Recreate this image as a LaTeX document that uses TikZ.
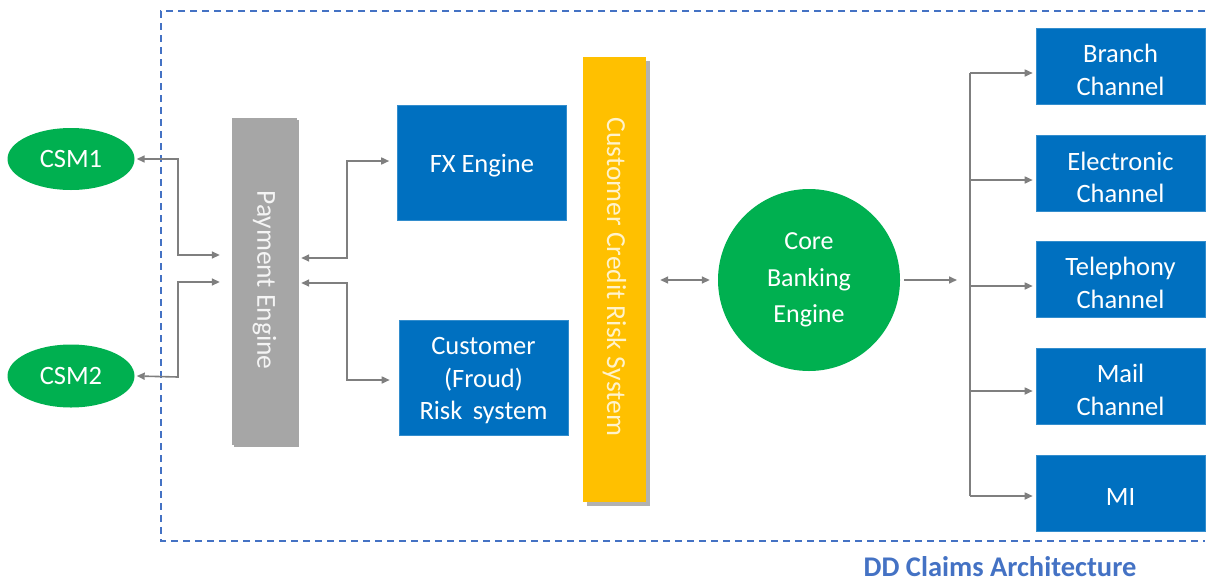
\documentclass[tikz,border=0pt]{standalone}
\usepackage{fontspec}
\setmainfont{Carlito}
\usetikzlibrary{arrows.meta,shapes.geometric}
\definecolor{boxblue}{HTML}{0070C0}
\definecolor{okgreen}{HTML}{00B050}
\definecolor{paygray}{HTML}{A6A6A6}
\definecolor{ccyellow}{HTML}{FFC000}
\definecolor{arrgray}{HTML}{7F7F7F}
\definecolor{dashblue}{HTML}{4472C4}
\tikzset{
  x=1pt,y=-1pt,
  txt/.style={font=\fontsize{26.5}{32.5}\selectfont, text=white, align=center, inner sep=0pt},
  rtxt/.style={font=\fontsize{27.5}{32}\selectfont, inner sep=0pt, rotate=-90},
  bluebox/.style={rectangle, fill=boxblue, draw=boxblue!80!white, line width=0.6pt},
  greenell/.style={txt, ellipse, fill=okgreen, inner sep=0pt},
  conn/.style={draw=arrgray, line width=1.6pt},
  tip/.style={-{Triangle[length=8pt,width=7pt]}},
  dtip/.style={{Triangle[length=8pt,width=7pt]}-{Triangle[length=8pt,width=7pt]}},
}
\begin{document}
\begin{tikzpicture}
\useasboundingbox (0,0) rectangle (1209,581);
% frame
\draw[dashblue, line width=1.8pt, dash pattern=on 7pt off 5pt] (1205,11) -- (161,11) -- (161,541) -- (1205,541);
\node[font=\bfseries\fontsize{28.5}{32}\selectfont, text=dashblue, inner sep=0pt, text depth=0pt, anchor=base] (title) at (1000,576) {DD Claims Architecture};

% left ellipses
\node[greenell, minimum width=127pt, minimum height=62pt] (csm1) at (71,159) {CSM1};
\node[greenell, minimum width=127pt, minimum height=63pt] (csm2) at (71,376) {CSM2};

% payment engine
\fill[gray!70] (234,120) rectangle (299,447);
\node[rectangle, fill=paygray, minimum width=65pt, minimum height=327pt, inner sep=0pt] (pay) at (264.5,281.5) {};
\node[rtxt, text=white!88!paygray] (paytxt) at (264.5,280) {Payment Engine};

% FX and fraud
\node[bluebox, minimum width=169pt, minimum height=115pt] (fx) at (482,162.5) {};
\node[txt] (fxt) at ([yshift=-3.5pt]fx.center) {FX Engine};
\node[bluebox, minimum width=169pt, minimum height=115pt] (cfr) at (483.5,377.5) {};
\node[txt] (cfrt) at ([yshift=-3.5pt]cfr.center) {Customer\\(Froud)\\Risk\, system};

% CCRS
\fill[gray!60] (587,61) rectangle (650,506);
\node[rectangle, fill=ccyellow, minimum width=63pt, minimum height=445pt, inner sep=0pt] (ccrs) at (614.5,279.5) {};
\node[rtxt, text=white!80!ccyellow] (ccrstxt) at (614.5,277) {Customer Credit Risk System};

% core
\node[txt, circle, fill=okgreen, minimum size=182pt, font=\fontsize{26}{36.5}\selectfont] (core) at (809,280) {Core\\Banking\\Engine};

% channels
\node[bluebox, minimum width=169pt, minimum height=76pt] (branch) at (1120.5,66) {};
\node[txt] (brancht) at ([yshift=-4pt]branch.center) {Branch\\Channel};
\node[bluebox, minimum width=169pt, minimum height=76pt] (elec) at (1120.5,173.5) {};
\node[txt] (elect) at ([yshift=-4pt]elec.center) {Electronic\\Channel};
\node[bluebox, minimum width=169pt, minimum height=76pt] (tel) at (1120.5,279) {};
\node[txt] (telt) at ([yshift=-4pt]tel.center) {Telephony\\Channel};
\node[bluebox, minimum width=169pt, minimum height=76pt] (mail) at (1120.5,386) {};
\node[txt] (mailt) at ([yshift=-4pt]mail.center) {Mail\\Channel};
\node[bluebox, minimum width=169pt, minimum height=76pt] (mi) at (1120.5,493) {};
\node[txt] (mit) at ([yshift=-4pt]mi.center) {MI};

% connectors left
\draw[conn, dtip] ([xshift=2pt]csm1.east) -- (178,159) -- (178,255) -- ([xshift=-12pt]pay.west |- 0,255);
\draw[conn, dtip] ([xshift=2pt]csm2.east) -- (178,377) -- (178,282) -- ([xshift=-12pt]pay.west |- 0,282);
\draw[conn, dtip] ([xshift=4pt]pay.east |- 0,258) -- (347,258) -- (347,161) -- ([xshift=-8pt]fx.west |- 0,161);
\draw[conn, dtip] ([xshift=4pt]pay.east |- 0,283) -- (347,283) -- (347,380) -- ([xshift=-9pt]cfr.west |- 0,380);
\draw[conn, dtip] ([xshift=14pt]ccrs.east |- 0,280) -- ([xshift=-8pt]core.west);

% right bus
\draw[conn, tip] ([xshift=4pt]core.east) -- (957,280);
\draw[conn] (970,73) -- (970,496);
\draw[conn, tip] (970,73) -- ([xshift=-3pt]branch.west |- 0,73);
\draw[conn, tip] (970,180) -- ([xshift=-3pt]elec.west |- 0,180);
\draw[conn, tip] (970,286) -- ([xshift=-3pt]tel.west |- 0,286);
\draw[conn, tip] (970,391) -- ([xshift=-3pt]mail.west |- 0,391);
\draw[conn, tip] (970,496) -- ([xshift=-3pt]mi.west |- 0,496);
\end{tikzpicture}
\end{document}
